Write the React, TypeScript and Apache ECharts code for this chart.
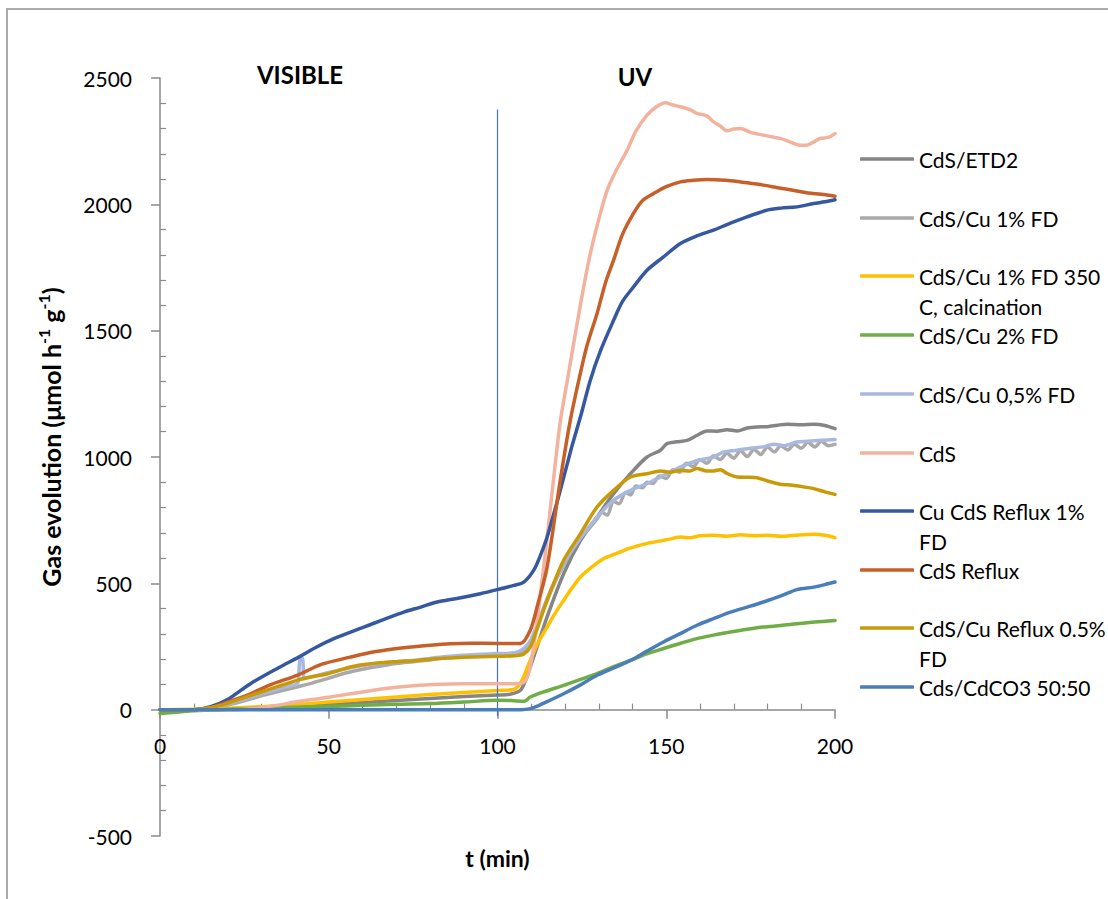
import React, { useEffect, useRef } from "react";
import * as echarts from "echarts";

// Gas evolution curves: [t (min), µmol h-1 g-1]
const cdsEtd2: [number, number][] = [
  [0, 0], [10, 0], [20, 2], [30, 8], [40, 14], [50, 20], [60, 28], [70, 36], [80, 44], [90, 52],
  [100, 58], [104, 62], [107, 80], [109.7, 169], [114.7, 367], [119.6, 538], [124.6, 670],
  [129.5, 762], [134.4, 855], [139.4, 934], [144.3, 1000], [148.3, 1027], [150.2, 1053],
  [153, 1060], [156.2, 1066], [159, 1085], [162.1, 1103], [165, 1102], [168, 1108], [171, 1103],
  [174, 1115], [176.9, 1119], [180, 1120], [183, 1126], [185.8, 1130], [190, 1128], [193.7, 1130],
  [197, 1125], [200, 1112],
];

const cdsCu1Fd: [number, number][] = [
  [0, 0], [10, 0], [15, 5], [20, 18], [25, 35], [30, 55], [35, 72], [40, 88], [45, 105], [50, 125],
  [55, 145], [60, 160], [65, 172], [70, 183], [75, 190], [80, 197], [85, 205], [90, 210], [95, 214],
  [100, 216], [105, 218], [108, 235], [110, 270], [113, 380], [116, 480], [119.6, 570], [122, 630],
  [124.6, 680], [127, 715], [129.5, 755], [131, 780], [132.5, 770], [134.4, 825], [136, 815],
  [138, 860], [139.4, 850], [141, 885], [143, 878], [144.3, 900], [146, 895], [148, 925], [150, 915],
  [152, 950], [154, 940], [156, 975], [158, 962], [160, 990], [162, 975], [164, 1005], [166, 990],
  [168, 1015], [170, 995], [172, 1025], [174, 1002], [176, 1030], [178, 1010], [180, 1040],
  [182, 1020], [184, 1045], [186, 1028], [188, 1050], [190, 1035], [192, 1058], [194, 1040],
  [196, 1062], [198, 1045], [200, 1050],
];

const cdsCu1Fd350: [number, number][] = [
  [0, 0], [10, 2], [20, 6], [30, 12], [40, 20], [50, 30], [60, 40], [70, 50], [80, 60], [90, 68],
  [100, 76], [104.8, 80], [107, 110], [109.7, 195], [112, 265], [114.7, 327], [117, 380],
  [119.6, 433], [122, 480], [124.6, 525], [128, 565], [131.5, 598], [134, 612], [136.4, 624],
  [139, 638], [142.3, 651], [145, 660], [148.3, 668], [151, 675], [154.2, 683], [157, 680],
  [160, 688], [164, 690], [168, 686], [172, 692], [176, 688], [180, 690], [184, 686], [188, 690],
  [193.7, 694], [197, 690], [200, 681],
];

const cdsCu2Fd: [number, number][] = [
  [0, -15], [5, -10], [10, -4], [20, 2], [30, 6], [40, 10], [50, 13], [60, 17], [70, 21], [80, 24],
  [90, 30], [100, 37], [104, 36], [108, 33], [109.7, 50], [114, 72], [119.6, 96], [124.6, 120],
  [129.5, 143], [134.4, 170], [139.4, 195], [144, 220], [149.2, 242], [154, 262], [159.1, 281],
  [164, 295], [169, 307], [174, 318], [178.8, 327], [184, 333], [188.7, 340], [194, 347], [200, 353],
];

const cdsCu05Fd: [number, number][] = [
  [0, 0], [10, 0], [15, 6], [20, 22], [25, 42], [30, 62], [35, 82], [38, 93], [40.8, 104],
  [41.3, 180], [41.8, 208], [42.3, 200], [42.8, 125], [45, 130], [50, 147], [56.4, 166], [60, 175],
  [66, 185], [70, 190], [76.2, 197], [80, 203], [85, 210], [90, 215], [95, 219], [100, 222],
  [105, 225], [108, 245], [110, 280], [114.7, 433], [119.6, 578], [124.6, 680], [129.5, 762],
  [134.4, 829], [139.4, 868], [144.3, 895], [148.3, 921], [154.2, 960], [159, 985], [164, 1000],
  [167, 1020], [171, 1027], [175, 1035], [178.8, 1040], [182, 1050], [185, 1045], [188.7, 1059],
  [192, 1062], [196, 1066], [200, 1069],
];

const cds: [number, number][] = [
  [0, 0], [10, 0], [20, 0], [25, 2], [30, 8], [35, 18], [40, 30], [45, 40], [50.5, 50], [55, 60],
  [60, 70], [66.3, 83], [70, 89], [75, 95], [81.1, 100], [90, 103], [100, 103], [105, 103],
  [107.8, 108], [109.7, 169], [112, 380], [114.7, 680], [117, 960], [118.6, 1140], [120.7, 1304],
  [124.8, 1620], [127.5, 1805], [130, 1940], [132.5, 2056], [135, 2130], [138.4, 2214], [141, 2290],
  [144.3, 2353], [147, 2385], [149.7, 2402], [152, 2393], [154.2, 2386], [157, 2375], [159.1, 2360],
  [162, 2350], [164, 2326], [166, 2310], [168, 2291], [170, 2298], [172, 2300], [175, 2285],
  [178.8, 2274], [181, 2268], [183.8, 2261], [187, 2245], [189.7, 2234], [191.5, 2234],
  [193.7, 2247], [195.6, 2261], [198, 2265], [200, 2280],
];

const cuCdsReflux1Fd: [number, number][] = [
  [0, 0], [10, 0], [15, 12], [20, 40], [26.8, 103], [35, 165], [41.1, 208], [46, 245], [51.5, 281],
  [60, 325], [66, 355], [72.2, 386], [77, 405], [82.1, 426], [88, 440], [94.9, 459], [99.9, 475],
  [104.8, 492], [107.8, 505], [110.7, 551], [112.7, 610], [114.7, 683], [118.6, 868], [122, 1040],
  [124.6, 1160], [127.5, 1304], [130.5, 1420], [134.4, 1541], [137, 1615], [140.3, 1673],
  [144.3, 1739], [149, 1790], [154.2, 1845], [159, 1875], [164, 1898], [168, 1920], [173.9, 1950],
  [179.9, 1977], [184, 1985], [188.7, 1990], [193.7, 2003], [197, 2010], [200, 2018],
];

const cdsReflux: [number, number][] = [
  [0, 0], [10, 0], [15, 8], [20, 30], [26.8, 63], [33, 100], [40.6, 136], [48, 180], [56.4, 208],
  [64, 230], [72.2, 245], [80, 255], [86, 261], [92, 263], [100, 262], [106.8, 262], [109.7, 314],
  [112, 420], [114.7, 564], [118.6, 908], [121.5, 1140], [124.1, 1304], [126.5, 1440], [129.5, 1568],
  [132, 1690], [134.4, 1779], [137, 1880], [140.3, 1964], [143, 2015], [146.3, 2043], [150, 2070],
  [154.2, 2089], [158, 2095], [162.1, 2098], [166, 2096], [169, 2093], [174, 2085], [178.8, 2076],
  [183, 2066], [188.7, 2053], [192, 2045], [196, 2040], [200, 2032],
];

const cdsCuReflux05Fd: [number, number][] = [
  [0, 0], [10, 0], [15, 8], [20, 25], [25, 48], [30, 70], [35, 92], [40.6, 116], [45, 130], [50, 143],
  [56.4, 169], [60, 178], [65, 186], [70, 190], [76.2, 195], [80, 200], [85, 204], [90, 207],
  [95, 209], [100, 211], [105, 213], [107.8, 220], [109.7, 248], [112, 330], [114.7, 433],
  [119.6, 591], [124.6, 697], [129.5, 802], [134.4, 868], [139.4, 921], [144.3, 934], [148.3, 945],
  [151, 940], [154.2, 947], [157, 945], [159.1, 954], [162, 945], [164, 945], [166, 950], [168, 935],
  [171, 921], [174, 920], [176.9, 918], [180, 905], [183.8, 892], [186, 890], [189.7, 884],
  [193.7, 875], [197, 862], [200, 852],
];

const cdsCdco3: [number, number][] = [
  [0, 0], [50, 0], [100, 0], [107, 0], [109.7, 4], [112, 15], [114.7, 32], [119.6, 63], [124.6, 98],
  [129.5, 136], [134.4, 165], [139.4, 195], [144.3, 232], [149.2, 268], [154, 300], [159.1, 334],
  [164, 360], [169, 386], [174, 406], [178.8, 426], [184, 450], [188.7, 475], [193.7, 485],
  [197, 495], [200, 505],
];

const seriesNames = [
  "CdS/ETD2",
  "CdS/Cu 1% FD",
  "CdS/Cu 1% FD 350 C, calcination",
  "CdS/Cu 2% FD",
  "CdS/Cu 0,5% FD",
  "CdS",
  "Cu CdS Reflux 1% FD",
  "CdS Reflux",
  "CdS/Cu Reflux 0.5% FD",
  "Cds/CdCO3 50:50",
];

// legend text as it wraps in the legend box
const legendLines: string[][] = [
  ["CdS/ETD2"],
  ["CdS/Cu 1% FD"],
  ["CdS/Cu 1% FD 350", "C, calcination"],
  ["CdS/Cu 2% FD"],
  ["CdS/Cu 0,5% FD"],
  ["CdS"],
  ["Cu CdS Reflux 1%", "FD"],
  ["CdS Reflux"],
  ["CdS/Cu Reflux 0.5%", "FD"],
  ["Cds/CdCO3 50:50"],
];

const seriesData = [
  cdsEtd2, cdsCu1Fd, cdsCu1Fd350, cdsCu2Fd, cdsCu05Fd, cds, cuCdsReflux1Fd, cdsReflux,
  cdsCuReflux05Fd, cdsCdco3,
];

const xTicks = { min: 0, max: 200, step: 50 };
const yTicks = { min: -500, max: 2500, step: 500 };
const lampSwitch = { t: 100, from: -25, to: 2375 };
const phaseLabels = [
  { text: "VISIBLE", x: 300, y: 74 },
  { text: "UV", x: 635, y: 76 },
];

const COLORS = [
  "#858585", "#a9a9a9", "#ffc000", "#70ad47", "#a9b8df", "#f3b29e", "#3558a0", "#c65f28",
  "#c99a08", "#4a7eba",
];
const LEGEND_Y = [159, 218, 276, 335, 394, 453, 511, 570, 628, 687];
const FONT = "Lato, 'Open Sans', sans-serif";
const AXIS = "#8a8a8a";

export default function App() {
  const ref = useRef<HTMLDivElement>(null);

  useEffect(() => {
    const chart = echarts.init(ref.current!, null, { renderer: "svg" });

    const series: any[] = seriesData.map((data, i) => ({
      name: seriesNames[i],
      type: "line",
      data,
      symbol: "none",
      showSymbol: false,
      smooth: 0.3,
      lineStyle: { color: COLORS[i], width: 3.5, cap: "round", join: "round" },
      itemStyle: { color: COLORS[i] },
      emphasis: { disabled: true },
      silent: true,
      z: 2 + i,
    }));

    // switch from visible to UV illumination
    series[series.length - 1].markLine = {
      silent: true,
      symbol: "none",
      label: { show: false },
      lineStyle: { color: "#4472c4", width: 1.2, type: "solid" },
      data: [[{ coord: [lampSwitch.t, lampSwitch.from] }, { coord: [lampSwitch.t, lampSwitch.to] }]],
    };

    const legend = seriesNames.map((name, i) => ({
      data: [name],
      left: 860,
      top: LEGEND_Y[i] - 12,
      padding: 0,
      orient: "vertical",
      icon: "roundRect",
      itemWidth: 54,
      itemHeight: 3.5,
      selectedMode: false,
      formatter: () => legendLines[i][0],
      textStyle: { fontFamily: FONT, fontSize: 21, color: "#000", lineHeight: 24 },
    }));

    const graphic: any[] = [
      {
        type: "rect",
        shape: { x: 7, y: 9, width: 1300, height: 1000 },
        style: { fill: "none", stroke: "#ababab", lineWidth: 2 },
        silent: true,
        z: 0,
      },
      ...phaseLabels.map((p) => ({
        type: "text",
        x: p.x,
        y: p.y,
        style: {
          text: p.text,
          fontFamily: FONT,
          fontSize: 24,
          fontWeight: "bold",
          fill: "#000",
          align: "center",
          verticalAlign: "middle",
        },
        silent: true,
      })),
    ];
    legendLines.forEach((lines, i) => {
      if (lines.length > 1) {
        graphic.push({
          type: "text",
          x: 919,
          y: LEGEND_Y[i] + 30,
          style: {
            text: lines[1],
            fontFamily: FONT,
            fontSize: 21,
            fill: "#000",
            align: "left",
            verticalAlign: "middle",
          },
          silent: true,
        });
      }
    });

    chart.setOption({
      animation: false,
      backgroundColor: "#fff",
      grid: { left: 160, right: 273, top: 78, bottom: 63, outerBoundsMode: "none" },
      xAxis: {
        type: "value",
        min: xTicks.min,
        max: xTicks.max,
        interval: xTicks.step,
        axisLine: { show: true, onZero: true, lineStyle: { color: AXIS, width: 1.5 } },
        axisTick: { show: true, length: 9, lineStyle: { color: AXIS, width: 1.5 } },
        minorTick: { show: true, splitNumber: 5, length: -6, lineStyle: { color: AXIS, width: 1.2 } },
        splitLine: { show: false },
        minorSplitLine: { show: false },
        // labels sit just under the zero line, well above the bottom of the grid
        axisLabel: { margin: -101, fontFamily: FONT, fontSize: 21, color: "#000" },
        name: "t (min)",
        nameLocation: "middle",
        nameGap: 10,
        nameMoveOverlap: false,
        nameTextStyle: { fontFamily: FONT, fontSize: 23, fontWeight: "bold", color: "#000" },
      },
      yAxis: {
        type: "value",
        min: yTicks.min,
        max: yTicks.max,
        interval: yTicks.step,
        axisLine: { show: true, onZero: false, lineStyle: { color: AXIS, width: 1.5 } },
        axisTick: { show: true, length: 9, lineStyle: { color: AXIS, width: 1.5 } },
        minorTick: { show: true, splitNumber: 5, length: -6, lineStyle: { color: AXIS, width: 1.2 } },
        splitLine: { show: false },
        minorSplitLine: { show: false },
        axisLabel: {
          margin: 28,
          fontFamily: FONT,
          fontSize: 21,
          color: "#000",
          formatter: (v: number) => String(v),
        },
        name: "{a|Gas evolution (μmol h}{s|-1}{a| g}{s|-1}{a|)}",
        nameLocation: "middle",
        nameGap: 93,
        nameTextStyle: {
          padding: [0, 0, 0, 40],
          rich: {
            a: { fontFamily: FONT, fontSize: 25, fontWeight: "bold", color: "#000", lineHeight: 32 },
            s: {
              fontFamily: FONT,
              fontSize: 16,
              fontWeight: "bold",
              color: "#000",
              lineHeight: 16,
              verticalAlign: "top",
            },
          },
        },
      },
      legend,
      graphic,
      series,
    });

    return () => chart.dispose();
  }, []);

  return (
    <div
      ref={ref}
      style={{ position: "absolute", left: 0, top: 0, width: 1108, height: 899, background: "#fff" }}
    />
  );
}
